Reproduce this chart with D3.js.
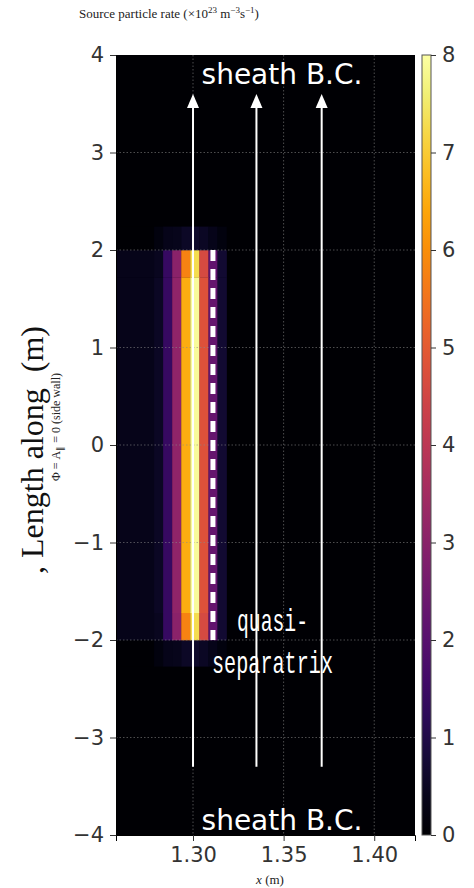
<!DOCTYPE html>
<html>
<head>
<meta charset="utf-8">
<script src="https://cdn.jsdelivr.net/npm/d3@7"></script>
<style>
  body { margin: 0; background: #fff; }
  svg { display: block; }
</style>
</head>
<body>
<div id="chart"></div>
<script>
// cell edges of the source map (m)
const xEdges = [1.2575, 1.2785, 1.2835, 1.2885, 1.2935, 1.2985, 1.3035, 1.3085, 1.3135, 1.3185];
const yEdges = [-2.27, -2.0, -1.72, 1.72, 2.0, 2.24];

// source rate per row (x1e23 m^-3 s^-1), bottom to top
const rateFringe = [0, 0.2, 0.35, 0.4, 0.55, 0.6, 0.5, 0.35, 0.2];
const rateEnd = [0.35, 0.45, 1.4, 3.0, 5.8, 7.3, 4.6, 2.2, 0.7];
const rateCore = [0.35, 0.5, 1.4, 3.1, 6.5, 7.9, 4.8, 2.3, 0.7];
const rateRows = [rateFringe, rateEnd, rateCore, rateEnd, rateFringe];

const xTicks = [1.30, 1.35, 1.40];
const yTicks = [-4, -3, -2, -1, 0, 1, 2, 3, 4];
const cbTicks = [0, 1, 2, 3, 4, 5, 6, 7, 8];

// field lines and separatrix
const arrowX = [1.30, 1.335, 1.371];
const arrowY = [-3.3, 3.6];
const sepX = 1.311;
const sepY = [-2, 2];

const width = 474, height = 888;
const mLeft = 116, mRight = 415, mTop = 55, mBottom = 835;

const svg = d3.select("#chart")
  .append("svg")
  .attr("width", width)
  .attr("height", height);

const x = d3.scaleLinear().domain([1.2575, 1.4225]).range([mLeft, mRight]);
const y = d3.scaleLinear().domain([-4, 4]).range([mBottom, mTop]);
const color = d3.scaleSequential(d3.interpolateInferno).domain([0, 8]);

const defs = svg.append("defs");

// black background = zero source
svg.append("rect")
  .attr("x", mLeft).attr("y", mTop)
  .attr("width", mRight - mLeft).attr("height", mBottom - mTop)
  .attr("fill", color(0));

// heatmap cells
const cells = [];
rateRows.forEach((row, j) => {
  row.forEach((v, i) => {
    cells.push({ x0: xEdges[i], x1: xEdges[i + 1], y0: yEdges[j], y1: yEdges[j + 1], v: v });
  });
});

svg.append("g")
  .selectAll("rect")
  .data(cells)
  .join("rect")
  .attr("x", d => x(d.x0))
  .attr("y", d => y(d.y1))
  .attr("width", d => x(d.x1) - x(d.x0) + 0.3)
  .attr("height", d => y(d.y0) - y(d.y1) + 0.3)
  .attr("fill", d => color(d.v));

// dotted grid
const grid = svg.append("g")
  .attr("stroke", "#8a8a8a")
  .attr("stroke-width", 0.8)
  .attr("stroke-dasharray", "1.5,2")
  .attr("opacity", 0.7);
grid.selectAll(".gx").data(xTicks).join("line")
  .attr("class", "gx")
  .attr("x1", d => x(d)).attr("x2", d => x(d))
  .attr("y1", mTop).attr("y2", mBottom);
grid.selectAll(".gy").data(yTicks.slice(1, -1)).join("line")
  .attr("class", "gy")
  .attr("x1", mLeft).attr("x2", mRight)
  .attr("y1", d => y(d)).attr("y2", d => y(d));

// separatrix dashed line
svg.append("line")
  .attr("x1", x(sepX)).attr("x2", x(sepX))
  .attr("y1", y(sepY[1])).attr("y2", y(sepY[0]))
  .attr("stroke", "#fff")
  .attr("stroke-width", 5)
  .attr("stroke-dasharray", "11,8");

// field-line arrows
svg.append("g")
  .selectAll("line")
  .data(arrowX)
  .join("line")
  .attr("x1", d => x(d)).attr("x2", d => x(d))
  .attr("y1", y(arrowY[0])).attr("y2", y(arrowY[1]) + 12)
  .attr("stroke", "#fff")
  .attr("stroke-width", 2);

svg.append("g")
  .selectAll("path")
  .data(arrowX)
  .join("path")
  .attr("d", d => `M${x(d) - 6},${y(arrowY[1]) + 14} L${x(d)},${y(arrowY[1])} L${x(d) + 6},${y(arrowY[1]) + 14} Z`)
  .attr("fill", "#fff");

// annotations
svg.selectAll(".bc")
  .data([{ t: "sheath B.C.", yy: 84 }, { t: "sheath B.C.", yy: 830 }])
  .join("text")
  .attr("class", "bc")
  .attr("x", 282).attr("y", d => d.yy)
  .attr("text-anchor", "middle")
  .attr("font-family", "DejaVu Sans")
  .attr("font-size", 28)
  .attr("fill", "#fff")
  .text(d => d.t);

const quasi = svg.append("g")
  .attr("font-family", "Liberation Mono")
  .attr("font-size", 32)
  .attr("fill", "#fff");
quasi.append("text")
  .attr("x", 237).attr("y", 631)
  .attr("textLength", 71).attr("lengthAdjust", "spacingAndGlyphs")
  .text("quasi-");
quasi.append("text")
  .attr("x", 212).attr("y", 673)
  .attr("textLength", 121).attr("lengthAdjust", "spacingAndGlyphs")
  .text("separatrix");

// axes
const tickFont = g => g.selectAll("text")
  .attr("font-family", "DejaVu Sans")
  .attr("font-size", 21)
  .attr("fill", "#333");

const yAxis = svg.append("g")
  .attr("transform", `translate(${mLeft},0)`)
  .call(d3.axisLeft(y).tickValues(yTicks).tickFormat(d => d < 0 ? "\u2212" + Math.abs(d) : d).tickSizeOuter(0).tickSize(6).tickPadding(6))
  .call(tickFont);
yAxis.select(".domain").attr("stroke", "#000");
yAxis.selectAll(".tick line").attr("stroke", "#333");

const xAxis = svg.append("g")
  .attr("transform", `translate(0,${mBottom})`)
  .call(d3.axisBottom(x).tickValues(xTicks).tickFormat(d3.format(".2f")).tickSizeOuter(0).tickSize(6).tickPadding(6))
  .call(tickFont);
xAxis.select(".domain").attr("stroke", "#000");
xAxis.selectAll(".tick line").attr("stroke", "#333");

// colour bar
const cbX = 422, cbW = 9;
const cbY = d3.scaleLinear().domain([0, 8]).range([mBottom, mTop]);
const grad = defs.append("linearGradient")
  .attr("id", "cb")
  .attr("x1", 0).attr("x2", 0).attr("y1", 1).attr("y2", 0);
grad.selectAll("stop")
  .data(d3.range(0, 1.0001, 0.05))
  .join("stop")
  .attr("offset", d => d)
  .attr("stop-color", d => color(d * 8));
svg.append("rect")
  .attr("x", cbX).attr("y", mTop)
  .attr("width", cbW).attr("height", mBottom - mTop)
  .attr("fill", "url(#cb)")
  .attr("stroke", "#555")
  .attr("stroke-width", 1);
const cbAxis = svg.append("g")
  .attr("transform", `translate(${cbX + cbW},0)`)
  .call(d3.axisRight(cbY).tickValues(cbTicks).tickSize(5).tickPadding(6))
  .call(tickFont);
cbAxis.select(".domain").remove();
cbAxis.selectAll(".tick line").attr("stroke", "#333");

// titles
const title = svg.append("text")
  .attr("x", 79).attr("y", 18)
  .attr("font-family", "Liberation Serif")
  .attr("font-size", 13)
  .attr("fill", "#222");
title.append("tspan").text("Source particle rate (\u00d710");
title.append("tspan").attr("dy", -5).attr("font-size", 9).text("23");
title.append("tspan").attr("dy", 5).text(" m");
title.append("tspan").attr("dy", -5).attr("font-size", 9).text("\u22123");
title.append("tspan").attr("dy", 5).text("s");
title.append("tspan").attr("dy", -5).attr("font-size", 9).text("\u22121");
title.append("tspan").attr("dy", 5).text(")");

svg.append("text")
  .attr("transform", "translate(43,450) rotate(-90)")
  .attr("text-anchor", "middle")
  .attr("font-family", "Liberation Serif")
  .attr("font-size", 32)
  .attr("fill", "#111")
  .attr("xml:space", "preserve")
  .text(", Length along  (m)");

const sub = svg.append("text")
  .attr("transform", "translate(60,427) rotate(-90)")
  .attr("text-anchor", "middle")
  .attr("font-family", "Liberation Serif")
  .attr("font-size", 12)
  .attr("fill", "#222");
sub.append("tspan").text("\u03a6 = A");
sub.append("tspan").attr("dy", 3).attr("font-size", 9).text("\u2225");
sub.append("tspan").attr("dy", -3).text(" = 0 (side wall)");

svg.append("text")
  .attr("x", 270).attr("y", 884)
  .attr("text-anchor", "middle")
  .attr("font-family", "Liberation Serif")
  .attr("font-size", 13)
  .attr("fill", "#222")
  .html('<tspan font-style="italic">x</tspan> (m)');
</script>
</body>
</html>
